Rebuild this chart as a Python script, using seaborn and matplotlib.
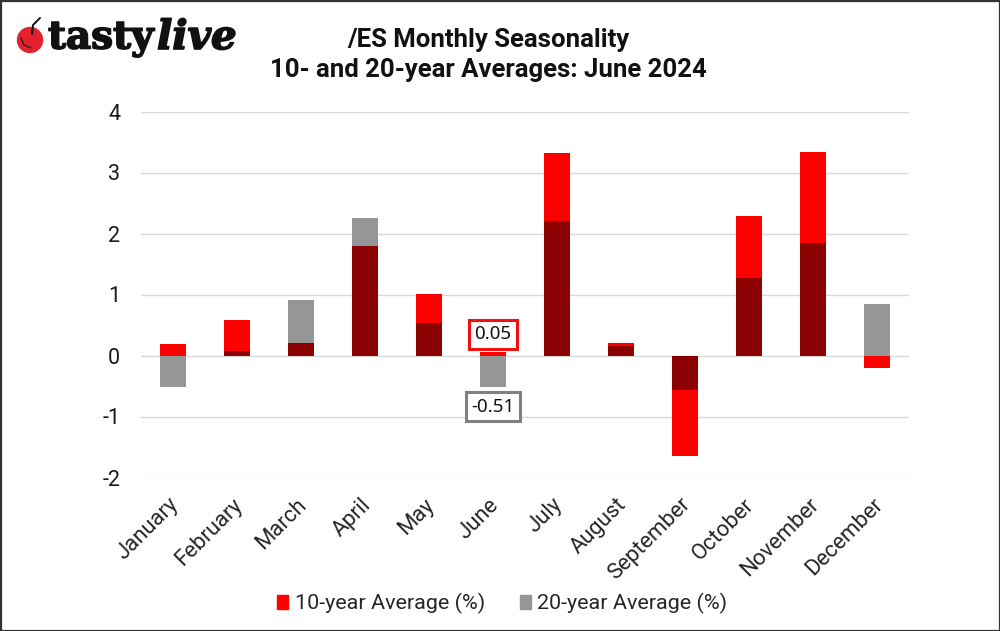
import pandas as pd
import matplotlib.pyplot as plt
import seaborn as sns
import matplotlib.patheffects as pe
from matplotlib.patches import Circle, Rectangle
from matplotlib.transforms import ScaledTranslation

months = ['January', 'February', 'March', 'April', 'May', 'June', 'July',
          'August', 'September', 'October', 'November', 'December']
avg_10y = [0.19, 0.58, 0.21, 1.80, 1.01, 0.05, 3.32, 0.21, -1.65, 2.29, 3.33, -0.20]
avg_20y = [-0.51, 0.08, 0.91, 2.26, 0.53, -0.51, 2.21, 0.15, -0.56, 1.27, 1.85, 0.85]
y_ticks = [-2, -1, 0, 1, 2, 3, 4]

sns.set_theme(style='white')
plt.rcParams['font.family'] = ['Roboto', 'DejaVu Sans']

df = pd.DataFrame({'month': months, 'ten': avg_10y, 'twenty': avg_20y})

# Where both bars point the same way they overlap, drawn in dark red
df['overlap'] = [min(a, b, key=abs) if a * b > 0 else 0 for a, b in zip(avg_10y, avg_20y)]

fig = plt.figure(figsize=(10, 6.31), dpi=100)
ax = fig.add_axes([141 / 1000, 1 - 477.5 / 631, 768 / 1000, 366 / 631])

bar_w = 0.42
sns.barplot(x='month', y='ten', data=df, ax=ax, color='#ff0000', width=bar_w, saturation=1, linewidth=0, zorder=3)
sns.barplot(x='month', y='twenty', data=df, ax=ax, color='#969696', width=bar_w, saturation=1, linewidth=0, zorder=3)

# grey must not hide the red where the red bar is the longer one
for i, row in df.iterrows():
    if row['ten'] * row['twenty'] > 0 and abs(row['ten']) > abs(row['twenty']):
        ax.bar(i, row['ten'], width=bar_w, color='#ff0000', linewidth=0, zorder=3.5)
sns.barplot(x='month', y='overlap', data=df, ax=ax, color='#8b0000', width=bar_w, saturation=1, linewidth=0, zorder=4)

ax.set_xlim(-0.5, 11.5)
ax.set_ylim(-2, 4)
ax.set_yticks(y_ticks)
ax.set_yticklabels([str(t) for t in y_ticks], fontsize=15.5, color='#1a1a1a')
ax.set_xlabel('')
ax.set_ylabel('')
ax.grid(axis='y', color='#d9d9d9', lw=1, zorder=0)
ax.set_axisbelow(True)
ax.tick_params(axis='both', length=0)
ax.tick_params(axis='y', pad=15)
ax.tick_params(axis='x', pad=12)
plt.setp(ax.get_xticklabels(), rotation=45, ha='right', rotation_mode='anchor', fontsize=15.8, color='#262626')

# move the month labels a little to the left
shift = ScaledTranslation(-5 / 100, 0, fig.dpi_scale_trans)
for lab in ax.get_xticklabels():
    lab.set_transform(lab.get_transform() + shift)
sns.despine(ax=ax, left=True, bottom=True)

# Callouts for the current month
ax.text(5, 0.345, '0.05', fontsize=13.5, family='Noto Sans', color='#111111', ha='center', va='center', zorder=6,
        bbox=dict(boxstyle='square,pad=0.28', fc='white', ec='#f01010', lw=2.2))
ax.text(5, -0.84, '-0.51', fontsize=13.5, family='Noto Sans', color='#111111', ha='center', va='center', zorder=6,
        bbox=dict(boxstyle='square,pad=0.28', fc='white', ec='#808080', lw=2.2))

fig.text(0.4885, 1 - 39.5 / 631, '/ES Monthly Seasonality', fontsize=18.5, fontweight='bold', color='#111111', ha='center', va='center')
fig.text(0.4885, 1 - 69.5 / 631, '10- and 20-year Averages: June 2024', fontsize=18.5, fontweight='bold', color='#111111', ha='center', va='center')

# Legend
handles = [Rectangle((0, 0), 1, 1, color='#ff0000'), Rectangle((0, 0), 1, 1, color='#969696')]
fig.legend(handles, ['10-year Average (%)', '20-year Average (%)'], loc='center', bbox_to_anchor=(0.5025, 1 - 603.5 / 631),
           ncol=2, frameon=False, fontsize=15.45, handlelength=0.5, handleheight=0.6, handletextpad=0.3,
           columnspacing=1.65, labelcolor='#262626')

# Logo
logo = fig.add_axes([0, 0, 1, 1], facecolor='none')
logo.set_xlim(0, 1000)
logo.set_ylim(631, 0)
logo.axis('off')
logo.add_patch(Circle((30, 40), 12.5, color='#e3202c'))
logo.plot([32, 33, 40], [34, 25, 18], color='#111111', lw=1.4)
logo.plot([21, 24, 31], [38, 45, 48], color='#222222', lw=1)
fat = [pe.withStroke(linewidth=1.2, foreground='#111111')]
logo.text(48, 38, 'tasty', fontsize=28, family='DejaVu Serif', fontweight='bold', color='#111111',
          va='center', ha='left', path_effects=fat)
logo.text(157, 38, 'live', fontsize=29, family='DejaVu Serif', fontweight='bold', style='italic', color='#111111',
          va='center', ha='left', path_effects=fat)

# Image frame
logo.add_patch(Rectangle((0.5, 0.5), 999, 630, fill=False, ec='#333333', lw=1.6))

plt.savefig('out.png', dpi=100)
